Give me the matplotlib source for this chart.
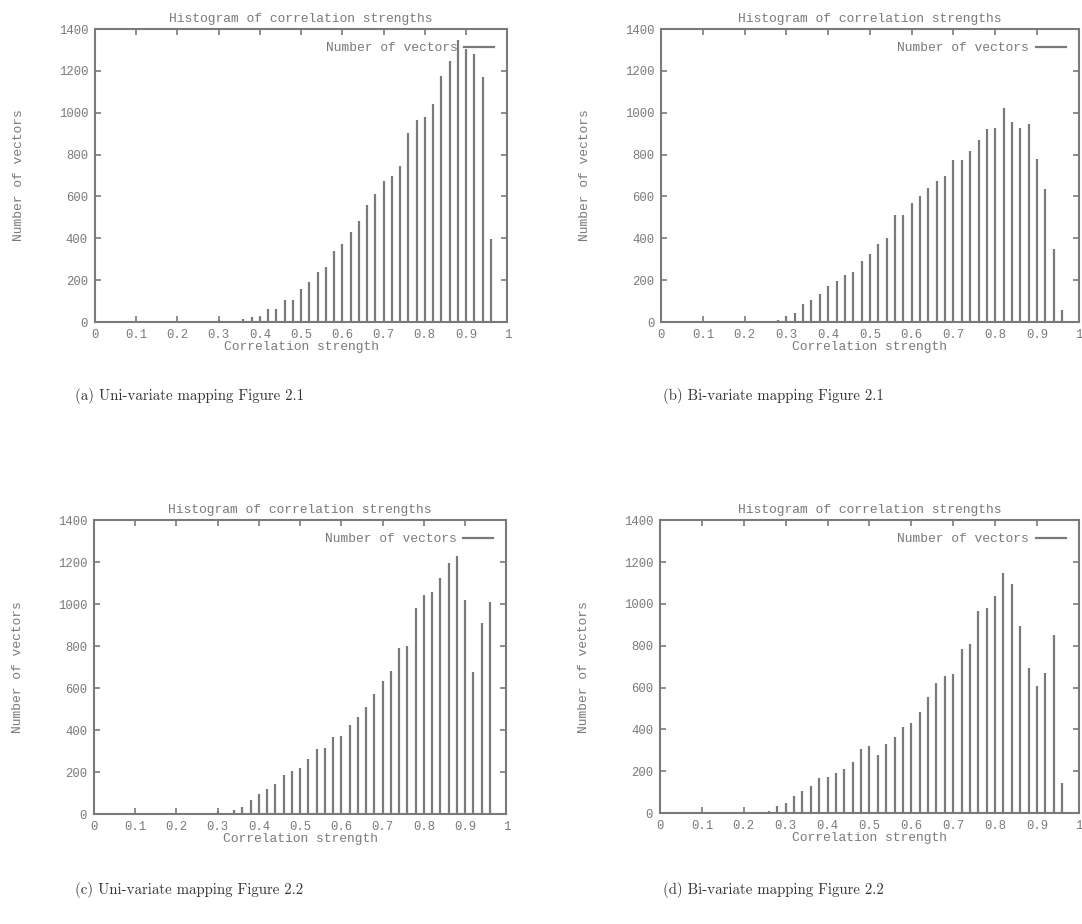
import numpy as np
import matplotlib.pyplot as plt
from matplotlib.lines import Line2D

# correlation strength bins (bar positions)
x_a = np.round(np.arange(0.30, 0.961, 0.02), 2)
x_b = np.round(np.arange(0.22, 0.961, 0.02), 2)
x_c = np.round(np.arange(0.30, 0.961, 0.02), 2)
x_d = np.round(np.arange(0.26, 0.961, 0.02), 2)

# (a) Uni-variate mapping Figure 2.1
counts_a = [10, 5, 5, 15, 25, 25, 60, 60, 103, 107, 160, 192, 237, 264, 340, 371,
            428, 484, 557, 612, 673, 698, 748, 902, 966, 982, 1042, 1176, 1247,
            1347, 1303, 1281, 1169, 396]
# (b) Bi-variate mapping Figure 2.1
counts_b = [2, 3, 4, 8, 30, 43, 87, 107, 132, 170, 194, 223, 239, 294, 326, 372,
            402, 512, 512, 571, 603, 640, 675, 697, 773, 772, 818, 870, 923, 926,
            1024, 958, 926, 945, 781, 635, 350, 56]
# (c) Uni-variate mapping Figure 2.2
counts_c = [15, 5, 20, 35, 65, 97, 121, 142, 185, 204, 218, 264, 310, 317, 369, 371,
            423, 463, 512, 573, 633, 681, 791, 800, 980, 1044, 1058, 1123, 1196,
            1229, 1018, 676, 908, 1010]
# (d) Bi-variate mapping Figure 2.2
counts_d = [10, 33, 49, 81, 104, 131, 166, 174, 191, 209, 244, 308, 320, 277, 332,
            364, 411, 430, 485, 556, 622, 654, 663, 785, 810, 968, 979, 1038, 1146,
            1097, 896, 695, 609, 670, 851, 145]

captions = ["(a) Uni-variate mapping Figure 2.1",
            "(b) Bi-variate mapping Figure 2.1",
            "(c) Uni-variate mapping Figure 2.2",
            "(d) Bi-variate mapping Figure 2.2"]

GREY = '#7a7a7a'
MONO = 'Liberation Mono'
FS = 9.4

fig = plt.figure(figsize=(10.82, 9.24), dpi=100)

# axes rectangles [left, bottom, width, height]
rects = [[0.0878, 0.6515, 0.381, 0.317],
         [0.611, 0.6515, 0.386, 0.317],
         [0.0869, 0.119, 0.381, 0.318],
         [0.610, 0.120, 0.387, 0.317]]
cap_pos = [(0.069, 0.567), (0.613, 0.567), (0.069, 0.033), (0.613, 0.033)]

data = [(x_a, counts_a), (x_b, counts_b), (x_c, counts_c), (x_d, counts_d)]

for rect, (xs, ys), cap, cpos in zip(rects, data, captions, cap_pos):
    ax = fig.add_axes(rect)
    ax.vlines(xs, 0, ys, colors=GREY, linewidth=1.6)
    ax.set_xlim(0, 1)
    ax.set_ylim(0, 1400)
    ax.set_xticks(np.round(np.arange(0, 1.01, 0.1), 1))
    ax.set_xticklabels(['0', '0.1', '0.2', '0.3', '0.4', '0.5', '0.6', '0.7',
                        '0.8', '0.9', '1'])
    ax.set_yticks(np.arange(0, 1401, 200))
    ax.tick_params(direction='in', length=4, width=1.2, colors=GREY,
                   top=True, right=True, labelsize=8.8, pad=5)
    for lab in ax.get_xticklabels() + ax.get_yticklabels():
        lab.set_family(MONO)
    for sp in ax.spines.values():
        sp.set_color(GREY)
        sp.set_linewidth(1.5)
    ax.set_title('Histogram of correlation strengths', family=MONO,
                 fontsize=FS, color=GREY, pad=5)
    ax.set_xlabel('Correlation strength', family=MONO, fontsize=FS,
                  color=GREY, labelpad=0)
    ax.set_ylabel('Number of vectors', family=MONO, fontsize=FS,
                  color=GREY, labelpad=24)
    handle = Line2D([], [], color=GREY, linewidth=1.6)
    ax.legend([handle], ['Number of vectors'], loc='upper right',
              frameon=False, markerfirst=False, handlelength=2.3,
              handletextpad=0.5, prop={'family': MONO, 'size': FS},
              labelcolor=GREY, borderaxespad=0.6)
    fig.text(cpos[0], cpos[1], cap, family='cmr10', fontsize=10.7, color='#333333')

plt.savefig('out.png', dpi=100)
